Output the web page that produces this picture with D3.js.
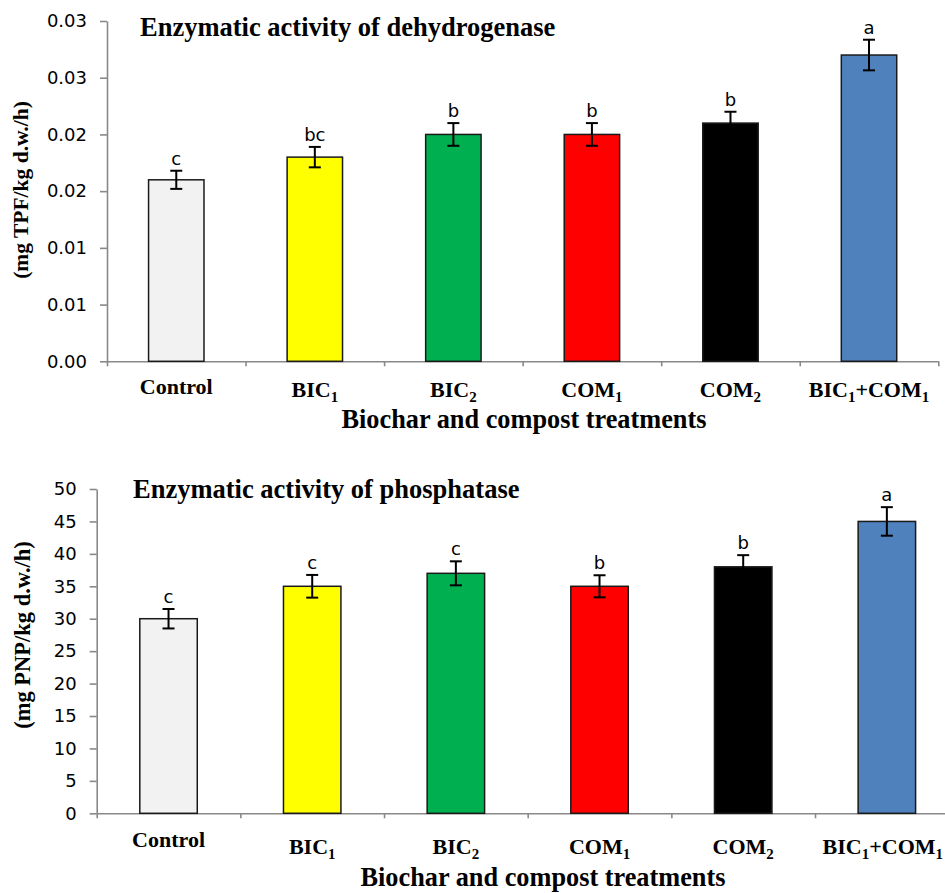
<!DOCTYPE html>
<html>
<head>
<meta charset="utf-8">
<script src="https://cdn.jsdelivr.net/npm/d3@7"></script>
<style>
  html, body { margin: 0; padding: 0; background: #fff; }
  svg { display: block; }
</style>
</head>
<body>
<svg id="chart" width="945" height="893"></svg>
<script>
// ---------- data ----------
const categories = ["Control", "BIC1", "BIC2", "COM1", "COM2", "BIC1+COM1"];
const categoryLabelParts = [
  [["Control", ""]],
  [["BIC", "1"]],
  [["BIC", "2"]],
  [["COM", "1"]],
  [["COM", "2"]],
  [["BIC", "1"], ["+COM", "1"]]
];
const barColors = ["#f2f2f2", "#ffff00", "#00b050", "#ff0000", "#000000", "#4f81bd"];

const dehydrogenaseValues = [0.016, 0.018, 0.020, 0.020, 0.021, 0.027];
const dehydrogenaseErrors = [0.0008, 0.0009, 0.0010, 0.0010, 0.0010, 0.00135];
const dehydrogenaseLetters = ["c", "bc", "b", "b", "b", "a"];
const dehydrogenaseTicks = [0, 0.005, 0.010, 0.015, 0.020, 0.025, 0.030];
const dehydrogenaseTickLabels = ["0.00", "0.01", "0.01", "0.02", "0.02", "0.03", "0.03"];

const phosphataseValues = [30, 35, 37, 35, 38, 45];
const phosphataseErrors = [1.5, 1.75, 1.85, 1.7, 1.8, 2.2];
const phosphataseLetters = ["c", "c", "c", "b", "b", "a"];
const phosphataseTicks = [0, 5, 10, 15, 20, 25, 30, 35, 40, 45, 50];
const phosphataseTickLabels = ["0", "5", "10", "15", "20", "25", "30", "35", "40", "45", "50"];

// ---------- drawing ----------
const svg = d3.select("#chart");
const serif = "'Liberation Serif', 'Times New Roman', serif";
const sans = "'DejaVu Sans', Verdana, sans-serif";
const W = 945;

function drawChart(cfg) {
  const g = svg.append("g");
  const n = categories.length;

  const x = d3.scaleBand().domain(categories)
    .range([cfg.x0, cfg.x1]).paddingInner(0.6).paddingOuter(0.3);
  const xEdges = d3.scaleLinear().domain([0, n]).range([cfg.x0, cfg.x1]);
  const y = d3.scaleLinear().domain([0, cfg.yMax]).range([cfg.y0, cfg.y1]);

  // x axis (ticks at category boundaries)
  const xAxis = g.append("g").attr("transform", `translate(0,${cfg.y0})`)
    .call(d3.axisBottom(xEdges).tickValues(d3.range(n + 1)).tickFormat("")
      .tickSizeInner(5).tickSizeOuter(0));
  xAxis.selectAll("path, line").attr("stroke", "#898989").attr("stroke-width", 1.6);

  // y axis
  const yAxis = g.append("g").attr("transform", `translate(${cfg.x0},0)`)
    .call(d3.axisLeft(y).tickValues(cfg.ticks)
      .tickFormat((d, i) => cfg.tickLabels[i])
      .tickSizeInner(7).tickSizeOuter(0).tickPadding(13));
  yAxis.selectAll("path, line").attr("stroke", "#898989").attr("stroke-width", 1.6);
  yAxis.selectAll("text").attr("font-family", sans).attr("font-size", cfg.tickFont)
    .attr("fill", "#000");

  const rows = categories.map((c, i) => ({
    c, i, v: cfg.values[i], e: cfg.errors[i], l: cfg.letters[i]
  }));

  // bars
  g.selectAll("rect.bar").data(rows).join("rect")
    .attr("class", "bar")
    .attr("x", d => x(d.c))
    .attr("width", x.bandwidth())
    .attr("y", d => y(d.v))
    .attr("height", d => y(0) - y(d.v))
    .attr("fill", d => barColors[d.i])
    .attr("stroke", "#1a1a1a")
    .attr("stroke-width", 1.5);

  // error bars
  const cap = 6;
  const cx = d => x(d.c) + x.bandwidth() / 2;
  const eb = g.selectAll("g.err").data(rows).join("g").attr("class", "err")
    .attr("stroke", "#000").attr("stroke-width", 2);
  eb.append("line")
    .attr("x1", cx).attr("x2", cx)
    .attr("y1", d => y(d.v + d.e)).attr("y2", d => y(d.v - d.e));
  eb.append("line")
    .attr("x1", d => cx(d) - cap).attr("x2", d => cx(d) + cap)
    .attr("y1", d => y(d.v + d.e)).attr("y2", d => y(d.v + d.e));
  eb.append("line")
    .attr("x1", d => cx(d) - cap).attr("x2", d => cx(d) + cap)
    .attr("y1", d => y(d.v - d.e)).attr("y2", d => y(d.v - d.e));

  // significance letters
  g.selectAll("text.letter").data(rows).join("text")
    .attr("class", "letter")
    .attr("x", cx)
    .attr("y", d => y(d.v + d.e) - 6)
    .attr("text-anchor", "middle")
    .attr("font-family", sans).attr("font-size", 18)
    .text(d => d.l);

  // category labels with subscripts
  const subShift = 5;
  const lbl = g.selectAll("text.cat").data(rows).join("text")
    .attr("class", "cat")
    .attr("x", cx)
    .attr("y", d => categoryLabelParts[d.i].some(p => p[1]) ? cfg.labelYSub : cfg.labelY)
    .attr("text-anchor", "middle")
    .attr("font-family", serif).attr("font-weight", "bold").attr("font-size", cfg.labelFont);
  lbl.each(function (d) {
    const t = d3.select(this);
    let shifted = false;
    categoryLabelParts[d.i].forEach(([main, sub]) => {
      t.append("tspan").attr("dy", shifted ? -subShift : 0).text(main);
      shifted = false;
      if (sub) {
        t.append("tspan").attr("font-size", cfg.labelFont * 0.68).attr("dy", subShift).text(sub);
        shifted = true;
      }
    });
    // keep the label inside the picture
    const bb = this.getBBox();
    const over = bb.x + bb.width - (W - 2);
    if (over > 0) t.attr("x", cx(d) - over);
  });

  // chart title
  g.append("text")
    .attr("x", cfg.titleX).attr("y", cfg.titleY)
    .attr("font-family", serif).attr("font-weight", "bold").attr("font-size", cfg.titleFont)
    .text(cfg.title);

  // x axis title
  g.append("text")
    .attr("x", cfg.xTitleX).attr("y", cfg.xTitleY)
    .attr("text-anchor", "middle")
    .attr("font-family", serif).attr("font-weight", "bold").attr("font-size", cfg.xTitleFont)
    .text("Biochar and compost treatments");

  // y axis title
  g.append("text")
    .attr("transform", `translate(${cfg.yTitleX},${cfg.yTitleY}) rotate(-90)`)
    .attr("text-anchor", "middle")
    .attr("font-family", serif).attr("font-weight", "bold").attr("font-size", cfg.yTitleFont)
    .text(cfg.yTitle);
}

drawChart({
  x0: 107, x1: 938.3, y0: 361.3, y1: 21, yMax: 0.03,
  values: dehydrogenaseValues, errors: dehydrogenaseErrors, letters: dehydrogenaseLetters,
  ticks: dehydrogenaseTicks, tickLabels: dehydrogenaseTickLabels, tickFont: 18,
  labelY: 394, labelYSub: 397, labelFont: 22,
  title: "Enzymatic activity of dehydrogenase", titleX: 140, titleY: 36, titleFont: 26.5,
  xTitleX: 524, xTitleY: 428, xTitleFont: 26.3,
  yTitle: "(mg TPF/kg d.w./h)", yTitleX: 28, yTitleY: 190, yTitleFont: 21.5
});

drawChart({
  x0: 96.7, x1: 958.7, y0: 813.3, y1: 489, yMax: 50,
  values: phosphataseValues, errors: phosphataseErrors, letters: phosphataseLetters,
  ticks: phosphataseTicks, tickLabels: phosphataseTickLabels, tickFont: 18,
  labelY: 847, labelYSub: 854, labelFont: 22,
  title: "Enzymatic activity of phosphatase", titleX: 133, titleY: 498, titleFont: 26.5,
  xTitleX: 543, xTitleY: 886, xTitleFont: 26.3,
  yTitle: "(mg PNP/kg d.w./h)", yTitleX: 30, yTitleY: 635, yTitleFont: 22.5
});
</script>
</body>
</html>
